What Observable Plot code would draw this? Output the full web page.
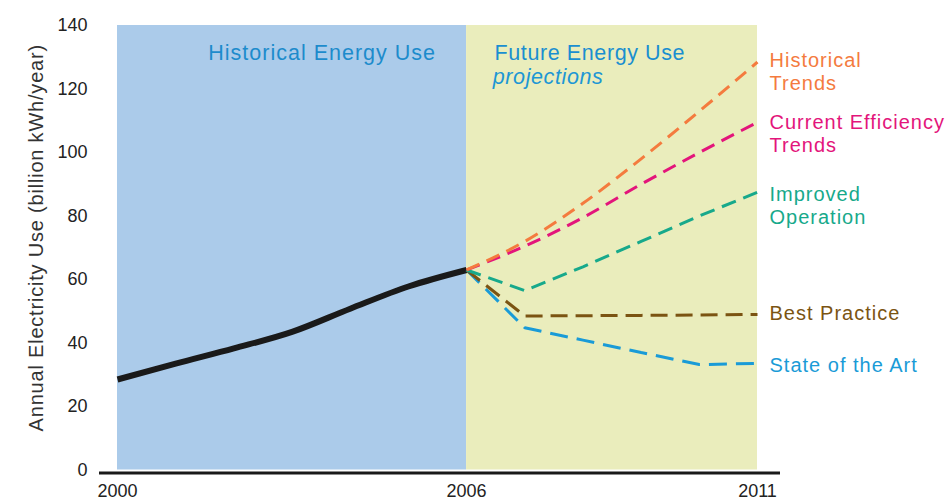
<!DOCTYPE html>
<html>
<head>
<meta charset="utf-8">
<script src="https://cdn.jsdelivr.net/npm/d3@7"></script>
<script src="https://cdn.jsdelivr.net/npm/@observablehq/plot@0.6"></script>
<style>
  html, body { margin: 0; padding: 0; background: #fff; }
  #chart svg { display: block; }
  g[aria-label$="tick label"] text, g[aria-label$="tick label"] {
    font-family: "Liberation Sans", Arial, sans-serif;
    font-size: 18px;
    fill: #222;
  }
  g[aria-description="ls1"] text { letter-spacing: 1px; }
  g[aria-description="ls05"] text { letter-spacing: 0.6px; }
  g[aria-description="ls08"] text { letter-spacing: 0.8px; }
</style>
</head>
<body>
<div id="chart"></div>
<script>
// ---- data ----
const histYears = [2000, 2001, 2002, 2003, 2004, 2005, 2006];
const histUse = [28.5, 33.5, 38.3, 43.5, 50.8, 57.8, 63];

const projYears = [2006, 2007, 2008, 2009, 2010, 2011];
const seriesNames = ["Historical Trends", "Current Efficiency Trends", "Improved Operation", "Best Practice", "State of the Art"];
const historicalTrends = [63, 72, 84, 98, 113, 128.5];
const currentEfficiency = [63, 70.5, 79.5, 90, 100, 109.5];
const improvedOperation = [63, 56.5, 64, 72, 80, 87.5];
const bestPractice = [63, 48.5, 48.6, 48.7, 48.8, 49];
const stateOfTheArt = [63, 44.8, 40.9, 37, 33.2, 33.6];

const seriesLabels = ["Historical\nTrends", "Current Efficiency\nTrends", "Improved\nOperation", "Best Practice", "State of the Art"];
const seriesLabelY = [125.7, 106, 83.3, 49.6, 33.2];

const periodNames = ["Historical Energy Use", "Future Energy Use"];
const periodStart = [2000, 2006];
const periodEnd = [2006, 2011];

const xTicks = [2000, 2006, 2011];
const yTicks = [0, 20, 40, 60, 80, 100, 120, 140];
const yLabel = "Annual Electricity Use (billion kWh/year)";

// ---- build tables ----
const periods = periodNames.map((n, i) => ({name: n, x1: periodStart[i], x2: periodEnd[i]}));
const periodColors = ["#abcbea", "#eaedbc"];
const hist = histYears.map((y, i) => ({year: y, value: histUse[i]}));
const seriesValues = [historicalTrends, currentEfficiency, improvedOperation, bestPractice, stateOfTheArt];
const seriesColors = ["#f47b3e", "#e3157b", "#17a98b", "#7b5412", "#1a9bd7"];
const seriesCurves = ["monotone-x", "monotone-x", "linear", "linear", "linear"];
const seriesDash = ["14,8", "14,8", "15,8", "17,8", "18,9"];
const proj = seriesNames.map((n, s) => projYears.map((y, i) => ({series: n, year: y, value: seriesValues[s][i]})));
const labels = seriesNames.map((n, i) => ({series: n, text: seriesLabels[i], year: projYears[projYears.length - 1], value: seriesLabelY[i], color: seriesColors[i]}));

const titleFont = "Liberation Sans, Arial, sans-serif";

const marks = [
  Plot.rect(periods, {x1: "x1", x2: "x2", y1: 0, y2: 140, fill: (d, i) => periodColors[i]}),
  Plot.ruleY([0], {stroke: "#1a1a1a", strokeWidth: 3, dy: 3, insetLeft: -18, insetRight: -23}),
  Plot.line(hist, {x: "year", y: "value", stroke: "#1a1a1a", strokeWidth: 6, curve: "monotone-x", strokeLinecap: "butt"}),
  ...proj.map((data, s) => Plot.line(data, {
    x: "year", y: "value", stroke: seriesColors[s], strokeWidth: 3,
    strokeDasharray: seriesDash[s], curve: seriesCurves[s], strokeLinecap: "butt", strokeLinejoin: "miter"
  })).reverse(),
  // period titles
  Plot.text([periodNames[0]], {x: 2001.56, y: 131.2, text: d => d, textAnchor: "start", fill: "#1d8bcc",
    fontSize: 21.5, fontFamily: titleFont, ariaDescription: "ls1"}),
  Plot.text([periodNames[1]], {x: 2006.48, y: 131.2, text: d => d, textAnchor: "start", fill: "#1a8fd0",
    fontSize: 21.5, fontFamily: titleFont, ariaDescription: "ls05"}),
  Plot.text(["projections"], {x: 2006.45, y: 123.9, text: d => d, textAnchor: "start", fill: "#1d97d4",
    fontSize: 21.5, fontStyle: "italic", fontFamily: titleFont, ariaDescription: "ls05"}),
  // series labels
  Plot.text(labels, {x: "year", y: "value", text: "text", fill: "color", textAnchor: "start", dx: 12,
    fontSize: 20, fontFamily: titleFont, lineHeight: 1.15, ariaDescription: "ls1"}),
  // y axis title
  Plot.text([yLabel], {frameAnchor: "left", text: d => d, rotate: -90, dx: -81, dy: -10, textAnchor: "middle", fill: "#333",
    fontSize: 20, fontFamily: titleFont, ariaDescription: "ls08"})
];

const chart = Plot.plot({
  width: 945,
  height: 503,
  marginLeft: 117,
  marginRight: 188,
  marginTop: 25,
  marginBottom: 33.5,
  style: {fontFamily: titleFont, fontSize: "18px", background: "#fff", color: "#222", overflow: "visible"},
  x: {domain: [2000, 2011], ticks: xTicks, tickFormat: d => String(d), tickSize: 0, tickPadding: 14, label: null},
  y: {domain: [0, 140], ticks: yTicks, tickSize: 0, tickPadding: 30, label: null},
  marks
});
document.getElementById("chart").appendChild(chart);
</script>
</body>
</html>
